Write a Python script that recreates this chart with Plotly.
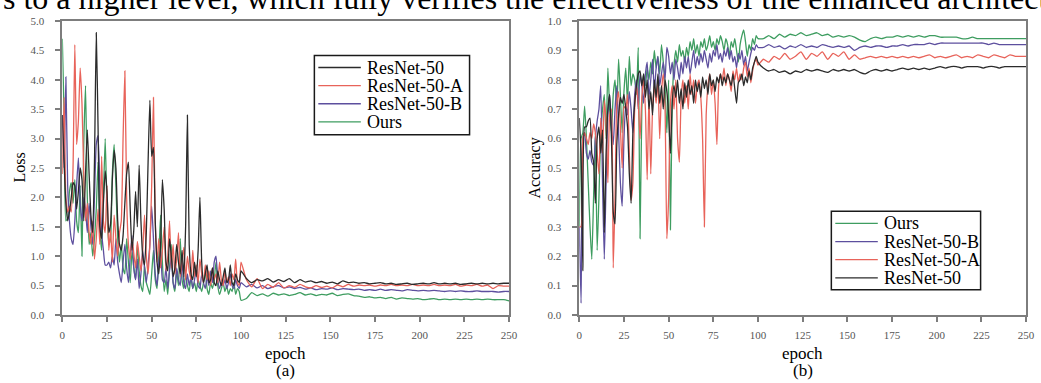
import plotly.graph_objects as go

# ---------------- data ----------------
EPOCHS_EARLY = list(range(0, 101))          # epochs 0..100
EPOCHS_LATE = list(range(103, 251, 3))       # epochs 103..250
EPOCHS = EPOCHS_EARLY + EPOCHS_LATE

SERIES = ["ResNet-50", "ResNet-50-A", "ResNet-50-B", "Ours"]

loss_resnet50 = [
    3.40, 2.60, 1.90, 1.60, 1.75, 2.00, 2.25, 2.20, 1.80, 2.10,
    2.50, 2.30, 1.60, 2.40, 3.15, 2.40, 1.70, 1.40, 2.60, 4.80,
    3.20, 1.50, 1.30, 1.90, 2.45, 2.10, 1.40, 1.55, 2.30, 2.80,
    2.50, 1.60, 1.20, 1.10, 1.35, 1.90, 2.40, 2.60, 1.80, 1.10,
    1.45, 2.10, 1.50, 2.55, 1.60, 1.00, 0.85, 1.40, 2.60, 3.65,
    2.70, 2.85, 1.60, 0.90, 0.70, 1.20, 2.30, 1.80, 0.90, 0.75,
    1.30, 1.00, 0.65, 0.80, 1.20, 0.90, 0.70, 1.10, 0.65, 1.50,
    3.40, 1.20, 0.70, 0.60, 0.90, 0.65, 1.10, 2.00, 0.90, 0.55,
    0.70, 0.85, 0.55, 0.60, 0.80, 0.55, 0.50, 0.75, 0.60, 0.50,
    0.65, 0.80, 0.55, 0.60, 0.85, 0.55, 0.50, 0.70, 0.60, 0.55, 0.75,
    0.62, 0.55, 0.60, 0.58, 0.62, 0.56, 0.60, 0.57, 0.62, 0.55,
    0.60, 0.56, 0.58, 0.55, 0.57, 0.54, 0.56, 0.53, 0.58, 0.55,
    0.56, 0.54, 0.55, 0.53, 0.54, 0.55, 0.53, 0.54, 0.52, 0.53,
    0.54, 0.52, 0.53, 0.54, 0.53, 0.55, 0.53, 0.54, 0.53, 0.54,
    0.52, 0.53, 0.54, 0.53, 0.54, 0.53, 0.54, 0.53, 0.54, 0.54,
]
loss_resnet50_a = [
    2.40, 3.70, 2.00, 1.75, 1.85, 1.75, 2.50, 4.60, 2.90, 3.30,
    4.20, 3.60, 2.40, 1.60, 1.90, 1.40, 1.20, 1.60, 0.95, 1.30,
    1.80, 1.20, 2.70, 1.60, 1.40, 2.20, 1.10, 1.45, 0.90, 1.70,
    1.30, 1.00, 1.40, 1.60, 3.00, 4.15, 2.00, 1.20, 0.95, 1.30,
    1.05, 0.80, 1.25, 1.00, 0.75, 1.10, 1.70, 1.00, 0.70, 1.20,
    2.20, 3.70, 1.60, 0.90, 1.30, 0.80, 1.10, 1.50, 0.75, 1.00,
    1.60, 0.80, 1.20, 0.70, 0.95, 1.40, 0.65, 0.90, 1.15, 0.60,
    1.00, 0.75, 0.60, 1.10, 0.65, 0.85, 0.55, 0.95, 0.70, 0.55,
    0.85, 0.60, 0.75, 0.50, 0.80, 0.60, 0.70, 0.55, 0.90, 0.60,
    0.50, 0.75, 0.55, 0.65, 0.50, 0.70, 0.60, 0.95, 0.55, 0.50, 0.90,
    0.60, 0.48, 0.62, 0.45, 0.52, 0.47, 0.55, 0.46, 0.50, 0.47,
    0.52, 0.48, 0.46, 0.50, 0.47, 0.49, 0.46, 0.51, 0.48, 0.52,
    0.49, 0.51, 0.50, 0.51, 0.49, 0.51, 0.50, 0.52, 0.50, 0.51,
    0.50, 0.52, 0.50, 0.51, 0.50, 0.52, 0.50, 0.51, 0.50, 0.52,
    0.49, 0.51, 0.50, 0.52, 0.49, 0.51, 0.45, 0.50, 0.49, 0.49,
]
loss_resnet50_b = [
    3.40, 2.50, 4.05, 2.20, 1.60, 1.30, 1.20, 1.60, 2.20, 2.67,
    1.90, 1.60, 2.00, 1.80, 1.40, 1.90, 1.50, 1.20, 2.00, 2.90,
    3.05, 2.20, 1.40, 1.10, 0.85, 0.85, 0.90, 0.80, 1.00, 0.85,
    1.30, 0.90, 0.70, 0.55, 0.90, 1.20, 0.80, 0.55, 1.00, 1.35,
    0.80, 0.60, 0.95, 0.45, 0.70, 1.10, 0.80, 0.55, 0.85, 1.20,
    1.85, 1.30, 0.70, 0.50, 0.90, 1.10, 0.60, 0.55, 0.80, 0.45,
    0.75, 1.00, 0.55, 0.45, 0.80, 0.60, 0.50, 0.90, 0.55, 0.45,
    0.70, 0.50, 0.65, 0.45, 0.60, 0.80, 0.50, 0.45, 0.70, 0.55,
    0.45, 0.65, 0.50, 0.75, 0.55, 0.90, 1.00, 0.60, 0.45, 0.55,
    0.50, 0.60, 0.45, 0.55, 0.70, 0.50, 0.45, 0.60, 0.50, 0.45, 0.55,
    0.48, 0.52, 0.46, 0.50, 0.45, 0.48, 0.50, 0.46, 0.48, 0.45,
    0.47, 0.44, 0.46, 0.43, 0.45, 0.44, 0.46, 0.43, 0.45, 0.44,
    0.43, 0.44, 0.42, 0.43, 0.42, 0.44, 0.42, 0.43, 0.42, 0.41,
    0.43, 0.42, 0.41, 0.42, 0.41, 0.42, 0.41, 0.40, 0.41, 0.40,
    0.41, 0.40, 0.40, 0.41, 0.40, 0.40, 0.40, 0.39, 0.40, 0.40,
]
loss_ours = [
    4.70, 3.40, 1.60, 1.65, 2.10, 2.25, 1.90, 2.30, 1.60, 1.40,
    2.20, 1.00, 2.90, 3.90, 2.00, 1.20, 1.40, 1.00, 1.30, 1.80,
    2.60, 1.50, 1.10, 2.00, 3.00, 1.80, 1.20, 1.30, 2.40, 2.90,
    2.20, 1.30, 0.90, 1.20, 0.80, 0.70, 1.30, 0.90, 0.55, 1.10,
    0.80, 0.60, 1.20, 0.75, 0.50, 0.40, 0.85, 0.55, 0.45, 0.35,
    0.70, 1.10, 0.60, 0.45, 1.00, 1.70, 0.90, 0.40, 0.60, 0.35,
    0.80, 1.20, 0.55, 0.40, 0.75, 0.50, 1.30, 0.60, 0.45, 0.70,
    0.50, 0.40, 0.65, 0.45, 0.55, 0.40, 0.60, 0.50, 0.40, 0.55,
    0.75, 0.45, 0.35, 0.55, 0.45, 0.60, 0.90, 0.50, 0.35, 0.45,
    0.55, 0.40, 0.50, 0.35, 0.45, 0.40, 0.55, 0.35, 0.45, 0.40, 0.25,
    0.28, 0.38, 0.33, 0.36, 0.32, 0.37, 0.34, 0.36, 0.33, 0.35,
    0.38, 0.34, 0.36, 0.33, 0.35, 0.34, 0.37, 0.33, 0.35, 0.36,
    0.33, 0.32, 0.30, 0.31, 0.29, 0.30, 0.28, 0.30, 0.27, 0.29,
    0.28, 0.27, 0.28, 0.26, 0.27, 0.28, 0.26, 0.27, 0.26, 0.27,
    0.26, 0.27, 0.26, 0.27, 0.26, 0.27, 0.26, 0.26, 0.26, 0.24,
]

acc_resnet50 = [
    0.67, 0.55, 0.15, 0.64, 0.64, 0.66, 0.67, 0.55, 0.52, 0.38,
    0.60, 0.64, 0.55, 0.63, 0.28, 0.55, 0.70, 0.75, 0.60, 0.35,
    0.31, 0.58, 0.68, 0.74, 0.72, 0.75, 0.70, 0.64, 0.48, 0.38,
    0.62, 0.72, 0.78, 0.82, 0.83, 0.78, 0.82, 0.74, 0.80, 0.70,
    0.76, 0.68, 0.80, 0.74, 0.82, 0.72, 0.78, 0.70, 0.80, 0.76,
    0.68, 0.55, 0.72, 0.78, 0.74, 0.80, 0.72, 0.77, 0.70, 0.79,
    0.74, 0.80, 0.75, 0.78, 0.72, 0.80, 0.76, 0.79, 0.74, 0.81,
    0.77, 0.80, 0.75, 0.82, 0.78, 0.80, 0.76, 0.81, 0.79, 0.82,
    0.78, 0.81, 0.79, 0.82, 0.80, 0.78, 0.82, 0.77, 0.72, 0.79,
    0.80, 0.82, 0.78, 0.81, 0.79, 0.83, 0.80, 0.84, 0.86, 0.88, 0.86,
    0.84, 0.83, 0.835, 0.825, 0.83, 0.82, 0.83, 0.825, 0.835, 0.83,
    0.835, 0.83, 0.825, 0.835, 0.83, 0.835, 0.83, 0.835, 0.825, 0.82,
    0.83, 0.835, 0.83, 0.835, 0.83, 0.835, 0.84, 0.835, 0.84, 0.835,
    0.84, 0.835, 0.84, 0.845, 0.84, 0.845, 0.845, 0.84, 0.845, 0.845,
    0.845, 0.84, 0.845, 0.845, 0.84, 0.845, 0.845, 0.845, 0.845, 0.845,
]
acc_resnet50_a = [
    0.30, 0.30, 0.60, 0.62, 0.60, 0.58, 0.62, 0.60, 0.65, 0.62,
    0.55, 0.48, 0.67, 0.55, 0.73, 0.65, 0.45, 0.68, 0.70, 0.16,
    0.40, 0.72, 0.76, 0.64, 0.50, 0.71, 0.70, 0.75, 0.55, 0.39,
    0.45, 0.70, 0.78, 0.72, 0.60, 0.74, 0.80, 0.70, 0.46, 0.75,
    0.48, 0.70, 0.78, 0.72, 0.80, 0.60, 0.76, 0.82, 0.70, 0.26,
    0.40, 0.72, 0.78, 0.70, 0.80, 0.60, 0.52, 0.74, 0.80, 0.72,
    0.78, 0.70, 0.82, 0.75, 0.80, 0.72, 0.78, 0.80, 0.74, 0.60,
    0.30, 0.68, 0.78, 0.82, 0.75, 0.80, 0.72, 0.58, 0.78, 0.82,
    0.80, 0.84, 0.78, 0.82, 0.80, 0.76, 0.83, 0.80, 0.84, 0.79,
    0.82, 0.80, 0.84, 0.86, 0.81, 0.84, 0.79, 0.83, 0.86, 0.87, 0.85,
    0.87, 0.86, 0.88, 0.87, 0.89, 0.87, 0.88, 0.895, 0.87, 0.89,
    0.88, 0.895, 0.87, 0.89, 0.88, 0.895, 0.87, 0.885, 0.87, 0.875,
    0.88, 0.875, 0.88, 0.875, 0.88, 0.875, 0.88, 0.875, 0.88, 0.875,
    0.88, 0.885, 0.875, 0.88, 0.875, 0.88, 0.885, 0.875, 0.88, 0.875,
    0.885, 0.88, 0.875, 0.885, 0.88, 0.875, 0.885, 0.88, 0.88, 0.88,
]
acc_resnet50_b = [
    0.30, 0.04, 0.60, 0.62, 0.55, 0.53, 0.56, 0.52, 0.51, 0.60,
    0.66, 0.70, 0.78, 0.45, 0.19, 0.45, 0.68, 0.75, 0.65, 0.58,
    0.70, 0.78, 0.62, 0.45, 0.37, 0.60, 0.72, 0.68, 0.76, 0.70,
    0.62, 0.75, 0.80, 0.70, 0.82, 0.78, 0.72, 0.82, 0.86, 0.74,
    0.80, 0.87, 0.76, 0.84, 0.88, 0.78, 0.82, 0.86, 0.80, 0.91,
    0.88, 0.82, 0.86, 0.80, 0.87, 0.84, 0.80, 0.86, 0.82, 0.88,
    0.84, 0.88, 0.82, 0.86, 0.90, 0.84, 0.88, 0.85, 0.89, 0.86,
    0.90, 0.87, 0.84, 0.89, 0.86, 0.90, 0.88, 0.92, 0.87, 0.89,
    0.86, 0.90, 0.88, 0.91, 0.87, 0.90, 0.86, 0.88, 0.84, 0.89,
    0.87, 0.90, 0.85, 0.88, 0.83, 0.86, 0.89, 0.91, 0.90, 0.92, 0.91,
    0.91, 0.92, 0.91, 0.915, 0.905, 0.915, 0.91, 0.92, 0.91, 0.915,
    0.91, 0.92, 0.915, 0.91, 0.915, 0.91, 0.915, 0.90, 0.91, 0.915,
    0.91, 0.915, 0.915, 0.91, 0.915, 0.915, 0.92, 0.915, 0.92, 0.92,
    0.92, 0.925, 0.92, 0.925, 0.925, 0.925, 0.925, 0.925, 0.925, 0.925,
    0.925, 0.925, 0.92, 0.925, 0.92, 0.92, 0.92, 0.92, 0.92, 0.92,
]
acc_ours = [
    0.30, 0.60, 0.62, 0.71, 0.60, 0.45, 0.30, 0.19, 0.40, 0.62,
    0.22, 0.40, 0.62, 0.70, 0.75, 0.60, 0.84, 0.70, 0.62, 0.75,
    0.80, 0.70, 0.87, 0.75, 0.62, 0.76, 0.84, 0.72, 0.88, 0.78,
    0.82, 0.80, 0.75, 0.91, 0.26, 0.70, 0.82, 0.78, 0.84, 0.80,
    0.86, 0.82, 0.90, 0.84, 0.88, 0.82, 0.92, 0.86, 0.78, 0.62,
    0.80, 0.29, 0.72, 0.85, 0.90, 0.86, 0.92, 0.88, 0.90, 0.86,
    0.91, 0.88, 0.93, 0.90, 0.94, 0.89, 0.92, 0.88, 0.93, 0.91,
    0.94, 0.90, 0.92, 0.95, 0.91, 0.93, 0.90, 0.94, 0.92, 0.95,
    0.93, 0.90, 0.94, 0.92, 0.88, 0.93, 0.91, 0.94, 0.90, 0.86,
    0.92, 0.95, 0.97, 0.93, 0.88, 0.92, 0.90, 0.94, 0.92, 0.95, 0.94,
    0.94, 0.95, 0.94, 0.955, 0.945, 0.955, 0.95, 0.96, 0.95, 0.955,
    0.96, 0.95, 0.955, 0.945, 0.95, 0.945, 0.95, 0.945, 0.935, 0.93,
    0.94, 0.945, 0.94, 0.945, 0.945, 0.95, 0.945, 0.95, 0.945, 0.95,
    0.945, 0.95, 0.95, 0.945, 0.945, 0.945, 0.945, 0.94, 0.94, 0.945,
    0.94, 0.94, 0.94, 0.94, 0.94, 0.94, 0.94, 0.94, 0.94, 0.94,
]

LOSS = {"ResNet-50": loss_resnet50, "ResNet-50-A": loss_resnet50_a,
        "ResNet-50-B": loss_resnet50_b, "Ours": loss_ours}
ACC = {"ResNet-50": acc_resnet50, "ResNet-50-A": acc_resnet50_a,
       "ResNet-50-B": acc_resnet50_b, "Ours": acc_ours}
for d in (LOSS, ACC):
    for k, v in d.items():
        assert len(v) == len(EPOCHS), (k, len(v), len(EPOCHS))

X_TICKS = list(range(0, 251, 25))
LOSS_TICKS = [0.0, 0.5, 1.0, 1.5, 2.0, 2.5, 3.0, 3.5, 4.0, 4.5, 5.0]
ACC_TICKS = [0.0, 0.1, 0.2, 0.3, 0.4, 0.5, 0.6, 0.7, 0.8, 0.9, 1.0]

# ---------------- style ----------------
COLORS = {"ResNet-50": "#2b2b2b", "ResNet-50-A": "#e8635a",
          "ResNet-50-B": "#5d4f9e", "Ours": "#3e9d60"}
FONT = "Liberation Serif"
W, H = 1041, 383


def fx(p):
    return p / W


def fy(p):
    return 1 - p / H


fig = go.Figure()
draw_order = ["Ours", "ResNet-50-B", "ResNet-50-A", "ResNet-50"]
for name in draw_order:
    fig.add_trace(go.Scatter(x=EPOCHS, y=LOSS[name], mode="lines", name=name,
                             line=dict(color=COLORS[name], width=1.3,
                                       shape="spline", smoothing=0.5),
                             xaxis="x", yaxis="y", showlegend=False))
for name in draw_order:
    fig.add_trace(go.Scatter(x=EPOCHS, y=ACC[name], mode="lines", name=name,
                             line=dict(color=COLORS[name], width=1.3,
                                       shape="spline", smoothing=0.5),
                             xaxis="x2", yaxis="y2", showlegend=False))

axis_common = dict(showline=True, mirror=True, linecolor="#7d7d7d", linewidth=1.5,
                   ticks="outside", tickcolor="#7d7d7d", tickwidth=1.5,
                   showgrid=False, zeroline=False,
                   tickfont=dict(family=FONT, size=11, color="#555555"))

fig.update_layout(
    width=W, height=H,
    margin=dict(l=0, r=0, t=0, b=0),
    paper_bgcolor="white", plot_bgcolor="white",
    showlegend=False,
    xaxis=dict(domain=[fx(60), fx(512)], range=[0, 250], tickvals=X_TICKS,
               ticklen=5, anchor="y", ticklabelstandoff=4, **axis_common),
    yaxis=dict(domain=[fy(319), fy(15.5)], range=[0, 5], tickvals=LOSS_TICKS,
               tickformat=".1f", ticklen=6, anchor="x", ticklabelstandoff=8,
               **axis_common),
    xaxis2=dict(domain=[fx(583), fx(1035)], range=[0, 250], tickvals=X_TICKS,
                ticklen=5, anchor="y2", ticklabelstandoff=4, **axis_common),
    yaxis2=dict(domain=[fy(319), fy(15.5)], range=[0, 1], tickvals=ACC_TICKS,
                tickformat=".1f", ticklen=6, anchor="x2", ticklabelstandoff=8,
                **axis_common),
)

annotations = []
shapes = []


def text(x, y, s, size, xanchor="center", yanchor="middle", angle=0, color="black"):
    annotations.append(dict(x=x, y=y, xref="paper", yref="paper", text=s,
                            showarrow=False, xanchor=xanchor, yanchor=yanchor,
                            textangle=angle,
                            font=dict(family=FONT, size=size, color=color)))


# cut-off sentence at top of the page (only its lower part is visible)
text(fx(-2), 1 + 29 / H,
     "s to a higher level, which fully verifies the effectiveness of the enhanced architecture.",
     32, xanchor="left", yanchor="top")

# axis titles and panel labels
text(fx(17), fy(167), "Loss", 16, angle=-90)
text(fx(538), fy(167), "Accuracy", 16, angle=-90)
text(fx(286), fy(359), "epoch", 17)
text(fx(809), fy(359), "epoch", 17)
text(fx(286), fy(376.5), "(a)", 17)
text(fx(809), fy(376.5), "(b)", 17)


def legend(box, rows, names):
    x0, y0, x1, y1 = box
    shapes.append(dict(type="rect", xref="paper", yref="paper",
                       x0=fx(x0), x1=fx(x1), y0=fy(y1), y1=fy(y0),
                       line=dict(color="#1a1a1a", width=1.5), fillcolor="white"))
    for r, name in zip(rows, names):
        shapes.append(dict(type="line", xref="paper", yref="paper",
                           x0=fx(x0 + 4), x1=fx(x0 + 47), y0=fy(r), y1=fy(r),
                           line=dict(color=COLORS[name], width=1.3)))
        text(fx(x0 + 51), fy(r), name, 18, xanchor="left")


legend((315, 51, 472, 133), [63.5, 82.2, 100.9, 119.6],
       ["ResNet-50", "ResNet-50-A", "ResNet-50-B", "Ours"])
legend((838, 212, 989, 293), [224.5, 243.2, 261.9, 280.6],
       ["Ours", "ResNet-50-B", "ResNet-50-A", "ResNet-50"])

fig.update_layout(annotations=annotations, shapes=shapes)
fig.write_html("out.html",
               config={"displayModeBar": False},
               post_script="document.body.style.margin='0px';document.body.style.overflow='hidden';")
